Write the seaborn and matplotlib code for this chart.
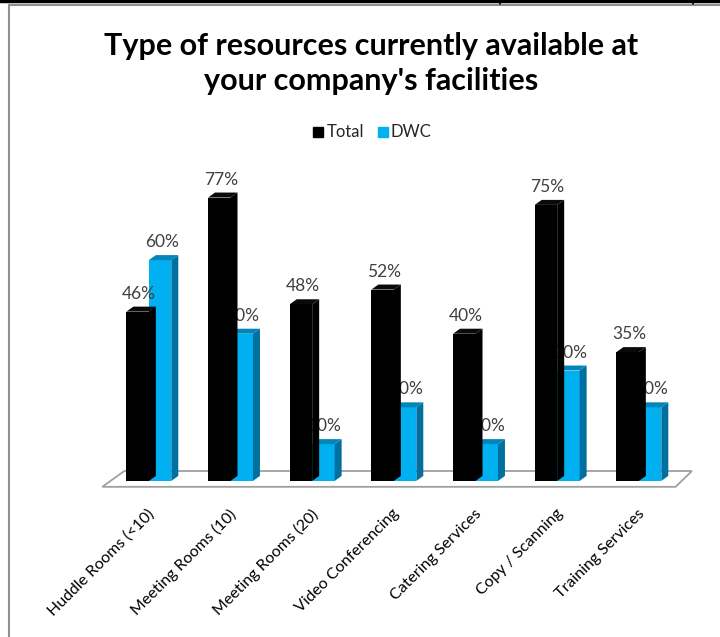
import numpy as np
import pandas as pd
import seaborn as sns
import matplotlib
matplotlib.use("Agg")
import matplotlib.pyplot as plt
from matplotlib.patches import Polygon
from matplotlib.lines import Line2D

# data
categories = ["Huddle Rooms (<10)", "Meeting Rooms (10)", "Meeting Rooms (20)",
              "Video Conferencing", "Catering Services", "Copy / Scanning",
              "Training Services"]
total = [0.46, 0.77, 0.48, 0.52, 0.40, 0.75, 0.35]
dwc = [0.60, 0.40, 0.10, 0.20, 0.10, 0.30, 0.20]
series = ["Total", "DWC"]

df = pd.DataFrame({
    "Resource": categories * 2,
    "Group": ["Total"] * len(categories) + ["DWC"] * len(categories),
    "Share": total + dwc,
})

colors = {"Total": "#000000", "DWC": "#00b0f0"}
side_col = {"Total": "#000000", "DWC": "#0070a0"}
top_col = {"Total": "#0a0a0a", "DWC": "#0086b8"}

sns.set_style("white")
plt.rcParams["font.family"] = ["Lato", "DejaVu Sans"]

fig = plt.figure(figsize=(7.2, 6.37), dpi=100)
ax = fig.add_axes([0.15, 0.245, 0.794, 0.52])

sns.barplot(data=df, x="Resource", y="Share", hue="Group", hue_order=series,
            palette=colors, width=0.55, dodge=True, saturation=1, ax=ax,
            legend=False, zorder=3, linewidth=0, edgecolor="none")
ax.set_ylim(0, 0.9)
ax.set_xlim(-0.5, 6.5)
ax.axis("off")

# pseudo-3d: side and top faces from each bar's geometry
ppx = 1 / 81.7          # data units per pixel in x
ppy = 0.9 / 331          # data units per pixel in y
dx, dy = 7 * ppx, 5 * ppy
n = len(categories)
for i, p in enumerate(ax.patches[:2 * n]):
    grp = series[i // n]
    x0, w, h = p.get_x(), p.get_width(), p.get_height()
    z = 4 if grp == "Total" else 3
    ax.add_patch(Polygon([(x0 + w, 0), (x0 + w + dx, dy), (x0 + w + dx, h + dy), (x0 + w, h)],
                         closed=True, fc=side_col[grp], ec="none", zorder=z))
    ax.add_patch(Polygon([(x0, h), (x0 + dx, h + dy), (x0 + w + dx, h + dy), (x0 + w, h)],
                         closed=True, fc=top_col[grp], ec="none", zorder=z))
    p.set_zorder(z)
    # labels; DWC labels sit behind the Total bars as in the original
    ax.text(x0 + w / 2 + dx / 2 - 2 * ppx, h + dy + 5 * ppy, f"{round(h * 100):d}%",
            ha="center", va="bottom", fontsize=12.5, color="#404040",
            zorder=2 if grp == "DWC" else 5)

# floor
floor = Polygon([(-0.57, -0.016), (-0.30, 0.027), (6.65, 0.027), (6.45, -0.016)],
                closed=True, fc="white", ec="#a0a0a0", lw=1.3, zorder=1, clip_on=False)
ax.add_patch(floor)

for i, c in enumerate(categories):
    ax.text(i - 0.02, -0.07, c, rotation=45, ha="right", va="top",
            rotation_mode="anchor", fontsize=11.5, color="black")

fig.text(0.515, 0.95, "Type of resources currently available at\nyour company's facilities",
         ha="center", va="top", fontsize=22, fontweight="bold", linespacing=1.3,
         color="black")

handles = [Line2D([], [], marker="s", ls="", color=colors[s], markersize=7) for s in series]
fig.legend(handles, series, loc="center", bbox_to_anchor=(0.515, 0.792), ncol=2,
           frameon=False, fontsize=12, handletextpad=0.0, columnspacing=0.6,
           handlelength=1.0)

# frame lines of the surrounding document
fig.add_artist(Line2D([0, 1], [0.998, 0.998], color="black", lw=2.5))
fig.add_artist(Line2D([0.012, 1], [0.992, 0.992], color="#909090", lw=1.5))
fig.add_artist(Line2D([0.012, 0.012], [0, 0.992], color="#909090", lw=1.5))
fig.add_artist(Line2D([0.694, 0.694], [0.993, 1], color="black", lw=1.2))
fig.add_artist(Line2D([0.963, 0.963], [0.993, 1], color="black", lw=1.2))

fig.savefig("out.png", dpi=100)
